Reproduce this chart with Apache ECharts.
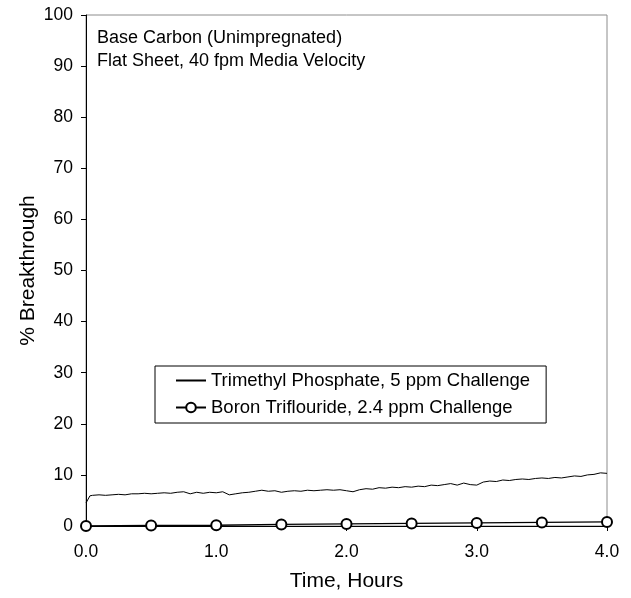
<!DOCTYPE html>
<html>
<head>
<meta charset="utf-8">
<script src="https://cdn.jsdelivr.net/npm/echarts@6/dist/echarts.min.js"></script>
<style>html,body{margin:0;padding:0;background:#fff;}#c{width:631px;height:598px;}</style>
</head>
<body>
<div id="c"></div>
<script>
var tmpTime = [0,0.03,0.05,0.10,0.15,0.20,0.25,0.30,0.35,0.40,0.45,0.50,0.55,0.60,0.65,0.70,0.75,0.80,0.85,0.90,0.95,1.00,1.05,1.10,1.15,1.20,1.25,1.30,1.35,1.40,1.45,1.50,1.55,1.60,1.65,1.70,1.75,1.80,1.85,1.90,1.95,2.00,2.05,2.10,2.15,2.20,2.25,2.30,2.35,2.40,2.45,2.50,2.55,2.60,2.65,2.70,2.75,2.80,2.85,2.90,2.95,3.00,3.05,3.10,3.15,3.20,3.25,3.30,3.35,3.40,3.45,3.50,3.55,3.60,3.65,3.70,3.75,3.80,3.85,3.90,3.95,4.00];
var tmpValues = [4.5,5.9,6.0,6.1,6.0,6.1,6.2,6.1,6.3,6.3,6.4,6.3,6.4,6.5,6.4,6.6,6.7,6.3,6.6,6.4,6.6,6.5,6.7,6.1,6.3,6.5,6.6,6.8,7.0,6.8,6.9,6.6,6.8,6.9,6.8,7.0,6.9,7.0,7.1,7.0,7.1,6.9,6.7,7.1,7.3,7.2,7.5,7.4,7.6,7.5,7.7,7.6,7.8,7.7,8.0,7.9,8.1,8.3,8.0,8.4,8.1,8.0,8.6,8.8,8.7,9.0,8.9,9.1,9.2,9.1,9.3,9.4,9.3,9.5,9.4,9.6,9.8,9.7,10.0,10.1,10.4,10.3];
var bfTime = [0,0.5,1.0,1.5,2.0,2.5,3.0,3.5,4.0];
var bfValues = [0,0.1,0.15,0.3,0.4,0.5,0.6,0.7,0.8];
var seriesNames = ['Trimethyl Phosphate, 5 ppm Challenge','Boron Triflouride, 2.4 ppm Challenge'];
var noteLines = ['Base Carbon (Unimpregnated)','Flat Sheet, 40 fpm Media Velocity'];
var xTicks = [0,1,2,3,4];
var yTicks = [0,10,20,30,40,50,60,70,80,90,100];

var FONT = '"Liberation Sans", Arial, sans-serif';
function zip(a,b){return a.map(function(v,i){return [v,b[i]];});}
var chart = echarts.init(document.getElementById('c'), null, {renderer:'canvas'});
chart.setOption({
  animation:false,
  backgroundColor:'#fff',
  textStyle:{fontFamily:FONT,color:'#000'},
  grid:{left:86,top:15,right:24,bottom:72,show:true,borderColor:'#8c8c8c',borderWidth:1,backgroundColor:'transparent'},
  xAxis:{type:'value',min:xTicks[0],max:xTicks[xTicks.length-1],interval:1,
    name:'Time, Hours',nameLocation:'middle',nameGap:45,nameMoveOverlap:false,
    nameTextStyle:{fontSize:21,color:'#000',fontFamily:FONT},
    axisLine:{lineStyle:{color:'#000',width:1}},
    axisTick:{show:true,length:5,lineStyle:{color:'#000'}},
    axisLabel:{fontSize:17.5,color:'#000',margin:17,fontFamily:FONT,formatter:function(v){return v.toFixed(1);}},
    splitLine:{show:false}},
  yAxis:{type:'value',min:yTicks[0],max:yTicks[yTicks.length-1],interval:10,
    name:'% Breakthrough',nameLocation:'middle',nameGap:47,nameMoveOverlap:false,
    nameTextStyle:{fontSize:21,color:'#000',fontFamily:FONT},
    axisLine:{show:true,lineStyle:{color:'#000',width:1}},
    axisTick:{show:true,length:5,lineStyle:{color:'#000'}},
    axisLabel:{fontSize:17.5,color:'#000',margin:13,fontFamily:FONT},
    splitLine:{show:false}},
  legend:{orient:'vertical',left:155,top:366,
    borderColor:'#000',borderWidth:1,padding:[5,16,6,20],itemGap:8,
    itemWidth:30,itemHeight:12,
    textStyle:{fontSize:18.5,color:'#000',fontFamily:FONT},
    data:[{name:seriesNames[0],itemStyle:{opacity:0}},{name:seriesNames[1]}]},
  graphic:[{type:'text',left:97,top:27,style:{text:noteLines.join('\n'),font:'18px '+FONT,fill:'#000',lineHeight:23}}],
  series:[
    {name:seriesNames[0],type:'line',data:zip(tmpTime,tmpValues),symbol:'none',
      lineStyle:{color:'#000',width:1},itemStyle:{color:'#000'}},
    {name:seriesNames[1],type:'line',data:zip(bfTime,bfValues),symbol:'emptyCircle',symbolSize:10,
      lineStyle:{color:'#000',width:1.3},itemStyle:{color:'#000',borderColor:'#000',borderWidth:1.2}}
  ]
});
</script>
</body>
</html>
